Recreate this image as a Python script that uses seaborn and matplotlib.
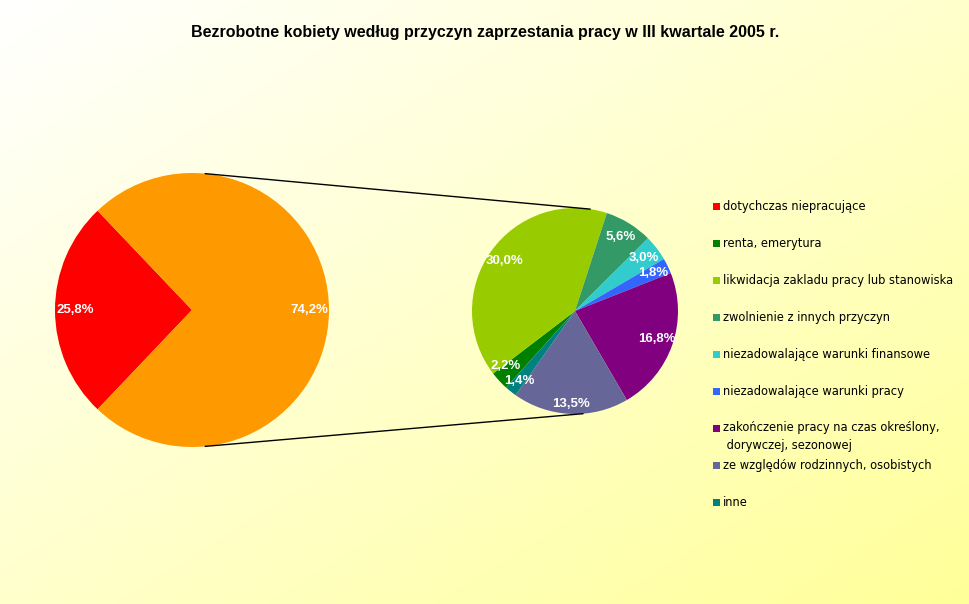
import numpy as np
import matplotlib
matplotlib.use("Agg")
import matplotlib.pyplot as plt
import seaborn as sns
from matplotlib.patches import ConnectionPatch, Rectangle

sns.set_theme(style="white")
plt.rcParams['font.family'] = ['DejaVu Sans']

title = "Bezrobotne kobiety według przyczyn zaprzestania pracy w III kwartale 2005 r."
main_labels = ["dotychczas niepracujące", "pozostałe"]
main_values = [25.8, 74.2]
main_colors = ["#FF0000", "#FF9900"]
sub_labels = ["renta, emerytura",
              "likwidacja zakladu pracy lub stanowiska",
              "zwolnienie z innych przyczyn",
              "niezadowalające warunki finansowe",
              "niezadowalające warunki pracy",
              "zakończenie pracy na czas określony,\n dorywczej, sezonowej",
              "ze względów rodzinnych, osobistych",
              "inne"]
sub_values = [2.2, 30.0, 5.6, 3.0, 1.8, 16.8, 13.5, 1.4]
sub_colors = ["#008000", "#99CC00", "#339966", "#33CCCC", "#3366FF",
              "#800080", "#666699", "#008080"]

W, H = 970, 604
fig = plt.figure(figsize=(W / 100, H / 100), dpi=100)

# background gradient (white top-left -> light yellow bottom-right)
bg = fig.add_axes([0, 0, 1, 1], zorder=-10)
xx, yy = np.meshgrid(np.linspace(0, 1, 200), np.linspace(0, 1, 200))
t = (xx + yy) / 2
img = np.ones((200, 200, 3))
img[..., 2] = 1.0 - t * (1 - 153 / 255)
bg.imshow(img, aspect="auto", extent=(0, 1, 0, 1), origin="upper")
bg.axis("off")

def fmt(total):
    return lambda p: f"{p * total / 100:.1f}%".replace(".", ",")

lab_font = dict(color="white", fontweight="bold",
                family=["Liberation Sans", "DejaVu Sans"], fontsize=9.5)

# main pie
c1, r1 = (192, 310), 137
ax1 = fig.add_axes([(c1[0] - r1) / W, (H - c1[1] - r1) / H, 2 * r1 / W, 2 * r1 / H])
tot1 = sum(main_values)
start1 = 180 - main_values[0] / tot1 * 180
w1, _, _ = ax1.pie(main_values, colors=main_colors, startangle=start1,
                   autopct=fmt(tot1), pctdistance=0.855,
                   wedgeprops=dict(linewidth=0), textprops=lab_font)
ax1.set_xlim(-1, 1); ax1.set_ylim(-1, 1); ax1.axis("off")

# secondary pie
c2, r2 = (575, 311), 103
ax2 = fig.add_axes([(c2[0] - r2) / W, (H - c2[1] - r2) / H, 2 * r2 / W, 2 * r2 / H])
tot2 = sum(sub_values)
w2, _, at2 = ax2.pie(sub_values, colors=sub_colors, startangle=228, counterclock=False,
                     autopct=fmt(tot2), pctdistance=0.84,
                     wedgeprops=dict(linewidth=0), textprops=lab_font)
ax2.set_xlim(-1, 1); ax2.set_ylim(-1, 1); ax2.axis("off")

# Excel-like label placement tweaks (radius, angle offset in degrees)
tweaks = {0: (0.86, -4.0), 6: (0.90, 0.0), 7: (0.87, 0.0)}
for i, (dist, dang) in tweaks.items():
    w = w2[i]
    ang = np.radians((w.theta1 + w.theta2) / 2 + dang)
    at2[i].set_position((dist * np.cos(ang), dist * np.sin(ang)))

# connector lines
for a_main, a_sub in [(84.5, 81.5), (-84.5, -85.5)]:
    pa = (np.cos(np.radians(a_main)), np.sin(np.radians(a_main)))
    pb = (np.cos(np.radians(a_sub)), np.sin(np.radians(a_sub)))
    con = ConnectionPatch(xyA=pa, coordsA=ax1.transData, xyB=pb, coordsB=ax2.transData,
                          color="black", lw=1)
    fig.add_artist(con)

# title
fig.text(485 / W, 1 - 32 / H, title, ha="center", va="center", fontsize=11.5,
         fontweight="bold", family=["Liberation Sans", "DejaVu Sans"], color="black")

# legend (Excel-style fixed spacing)
leg_labels = [main_labels[0]] + sub_labels
leg_colors = [w1[0].get_facecolor()] + [w.get_facecolor() for w in w2]
y0, dy = 206.5, 37
for i, (lab, col) in enumerate(zip(leg_labels, leg_colors)):
    y = y0 + i * dy
    fig.add_artist(Rectangle((713 / W, 1 - (y + 3.5) / H), 7 / W, 7 / H,
                             transform=fig.transFigure, facecolor=col, edgecolor="none"))
    if "\n" in lab:
        fig.text(723 / W, 1 - (y - 7) / H, lab, ha="left", va="top",
                 fontsize=8.3, color="black", linespacing=1.5, family=["DejaVu Sans"])
    else:
        fig.text(723 / W, 1 - y / H, lab, ha="left", va="center",
                 fontsize=8.3, color="black", family=["DejaVu Sans"])

fig.savefig("out.png", dpi=100)
